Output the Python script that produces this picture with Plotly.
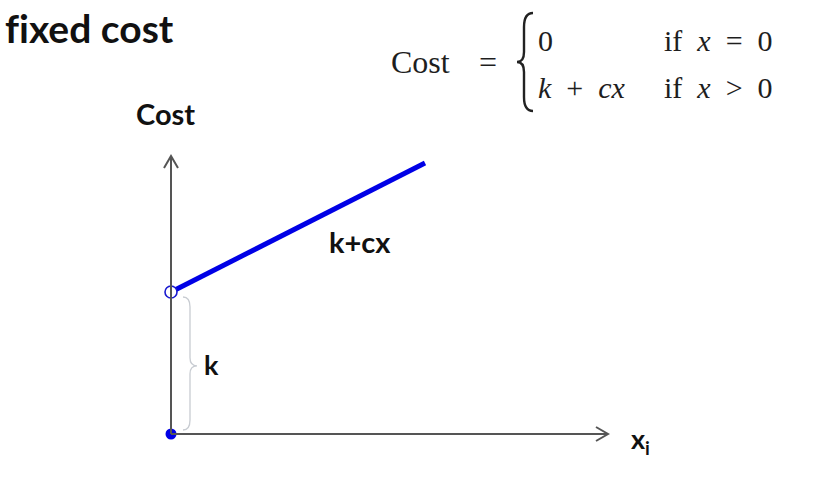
import plotly.graph_objects as go

# ---- data (diagram units: x in "quantity", y in "cost") ----
k = 142.0                 # fixed cost (intercept)
line_x = [0.0, 254.0]     # k + c x segment, x values
line_y = [142.0, 271.0]   # k + c x segment, y values
origin_x = [0.0]
origin_y = [0.0]
x_axis_end = 437.0
y_axis_end = 278.0

W, H = 830, 484
OX, OY = 171, 434  # origin pixel position

def px(x):  # pixel -> data x
    return x - OX

def py(y):  # pixel -> data y
    return OY - y

fig = go.Figure()

# k + cx line
fig.add_trace(go.Scatter(x=line_x, y=line_y, mode="lines",
                         line=dict(color="#0000E6", width=5), hoverinfo="skip"))
# open circle at (0, k)
fig.add_trace(go.Scatter(x=[line_x[0]], y=[line_y[0]], mode="markers",
                         marker=dict(size=12, color="white",
                                     line=dict(color="#1a1ad0", width=1.6)),
                         hoverinfo="skip"))
# filled dot at origin
fig.add_trace(go.Scatter(x=origin_x, y=origin_y, mode="markers",
                         marker=dict(size=11, color="#0000E6"), hoverinfo="skip"))

shapes = []
axc = "#555555"
# y-axis with arrow
shapes.append(dict(type="path", xref="x", yref="y",
                   path=f"M 0 0 L 0 {y_axis_end}",
                   line=dict(color=axc, width=2)))
shapes.append(dict(type="path", xref="x", yref="y",
                   path=f"M -7 {y_axis_end-12} L 0 {y_axis_end} L 7 {y_axis_end-12}",
                   line=dict(color=axc, width=2)))
# x-axis with arrow
shapes.append(dict(type="path", xref="x", yref="y",
                   path=f"M 0 0 L {x_axis_end} 0",
                   line=dict(color=axc, width=2)))
shapes.append(dict(type="path", xref="x", yref="y",
                   path=f"M {x_axis_end-12} 7 L {x_axis_end} 0 L {x_axis_end-12} -7",
                   line=dict(color=axc, width=2)))
# brace for k
bx0, bx1, bt = 12, 19, 26
top, bot, mid = k - 5, 4, k * 0.48
brace = (f"M {bx0} {top} Q {bx1} {top} {bx1} {top-10} "
         f"L {bx1} {mid+8} Q {bx1} {mid} {bt} {mid} "
         f"Q {bx1} {mid} {bx1} {mid-8} "
         f"L {bx1} {bot+10} Q {bx1} {bot} {bx0} {bot}")
shapes.append(dict(type="path", xref="x", yref="y", path=brace,
                   line=dict(color="#c8ccd2", width=1.3)))
# formula brace
fbx = px(533); fmx = px(517); fby_t = py(13); fby_b = py(111); fby_m = py(62)
fbr = (f"M {fbx} {fby_t} Q {px(524)} {fby_t} {px(524)} {py(27)} "
       f"L {px(524)} {py(52)} Q {px(524)} {fby_m} {fmx} {fby_m} "
       f"Q {px(524)} {fby_m} {px(524)} {py(72)} "
       f"L {px(524)} {py(97)} Q {px(524)} {fby_b} {fbx} {fby_b}")
shapes.append(dict(type="path", xref="x", yref="y", path=fbr,
                   line=dict(color="#222", width=2.4)))

ann = []
def text(x, y, s, size, family="Lato", bold=True, anchor="center", color="#111"):
    ann.append(dict(x=px(x), y=py(y), xref="x", yref="y", text=(f"<b>{s}</b>" if bold else s),
                    showarrow=False, xanchor=anchor, yanchor="middle",
                    font=dict(size=size, family=family, color=color)))

text(3, 28, "f&#8204;ixed cost", 39, anchor="left")
text(165, 113, "Cost", 29)
text(360, 241, "k+cx", 29)
text(211, 364, "k", 27)
text(640, 440, "x<sub>i</sub>", 27)

serif = "Liberation Serif"
fc = "#1e1e1e"
text(389, 62, "Cost", 32, family=serif, bold=False, anchor="left", color=fc)
text(488, 62, "=", 32, family=serif, bold=False, color=fc)
text(536, 40, "0", 30, family=serif, bold=False, anchor="left", color=fc)
text(662, 40, "if&#160;&#160;<i>x</i>&#160;&#160;=&#160;&#160;0", 30, family=serif, bold=False, anchor="left", color=fc)
text(536, 87, "<i>k</i>&#160;&#160;+&#160;&#160;<i>cx</i>", 30, family=serif, bold=False, anchor="left", color=fc)
text(662, 87, "if&#160;&#160;<i>x</i>&#160;&#160;&gt;&#160;&#160;0", 30, family=serif, bold=False, anchor="left", color=fc)

fig.update_layout(
    width=W, height=H, margin=dict(l=0, r=0, t=0, b=0),
    paper_bgcolor="white", plot_bgcolor="white", showlegend=False,
    xaxis=dict(range=[px(0), px(W)], visible=False, fixedrange=True),
    yaxis=dict(range=[py(H), py(0)], visible=False, fixedrange=True),
    shapes=shapes, annotations=ann,
)
fig.write_html("out.html", config={"displayModeBar": False},
               post_script="document.body.style.margin='0';")
